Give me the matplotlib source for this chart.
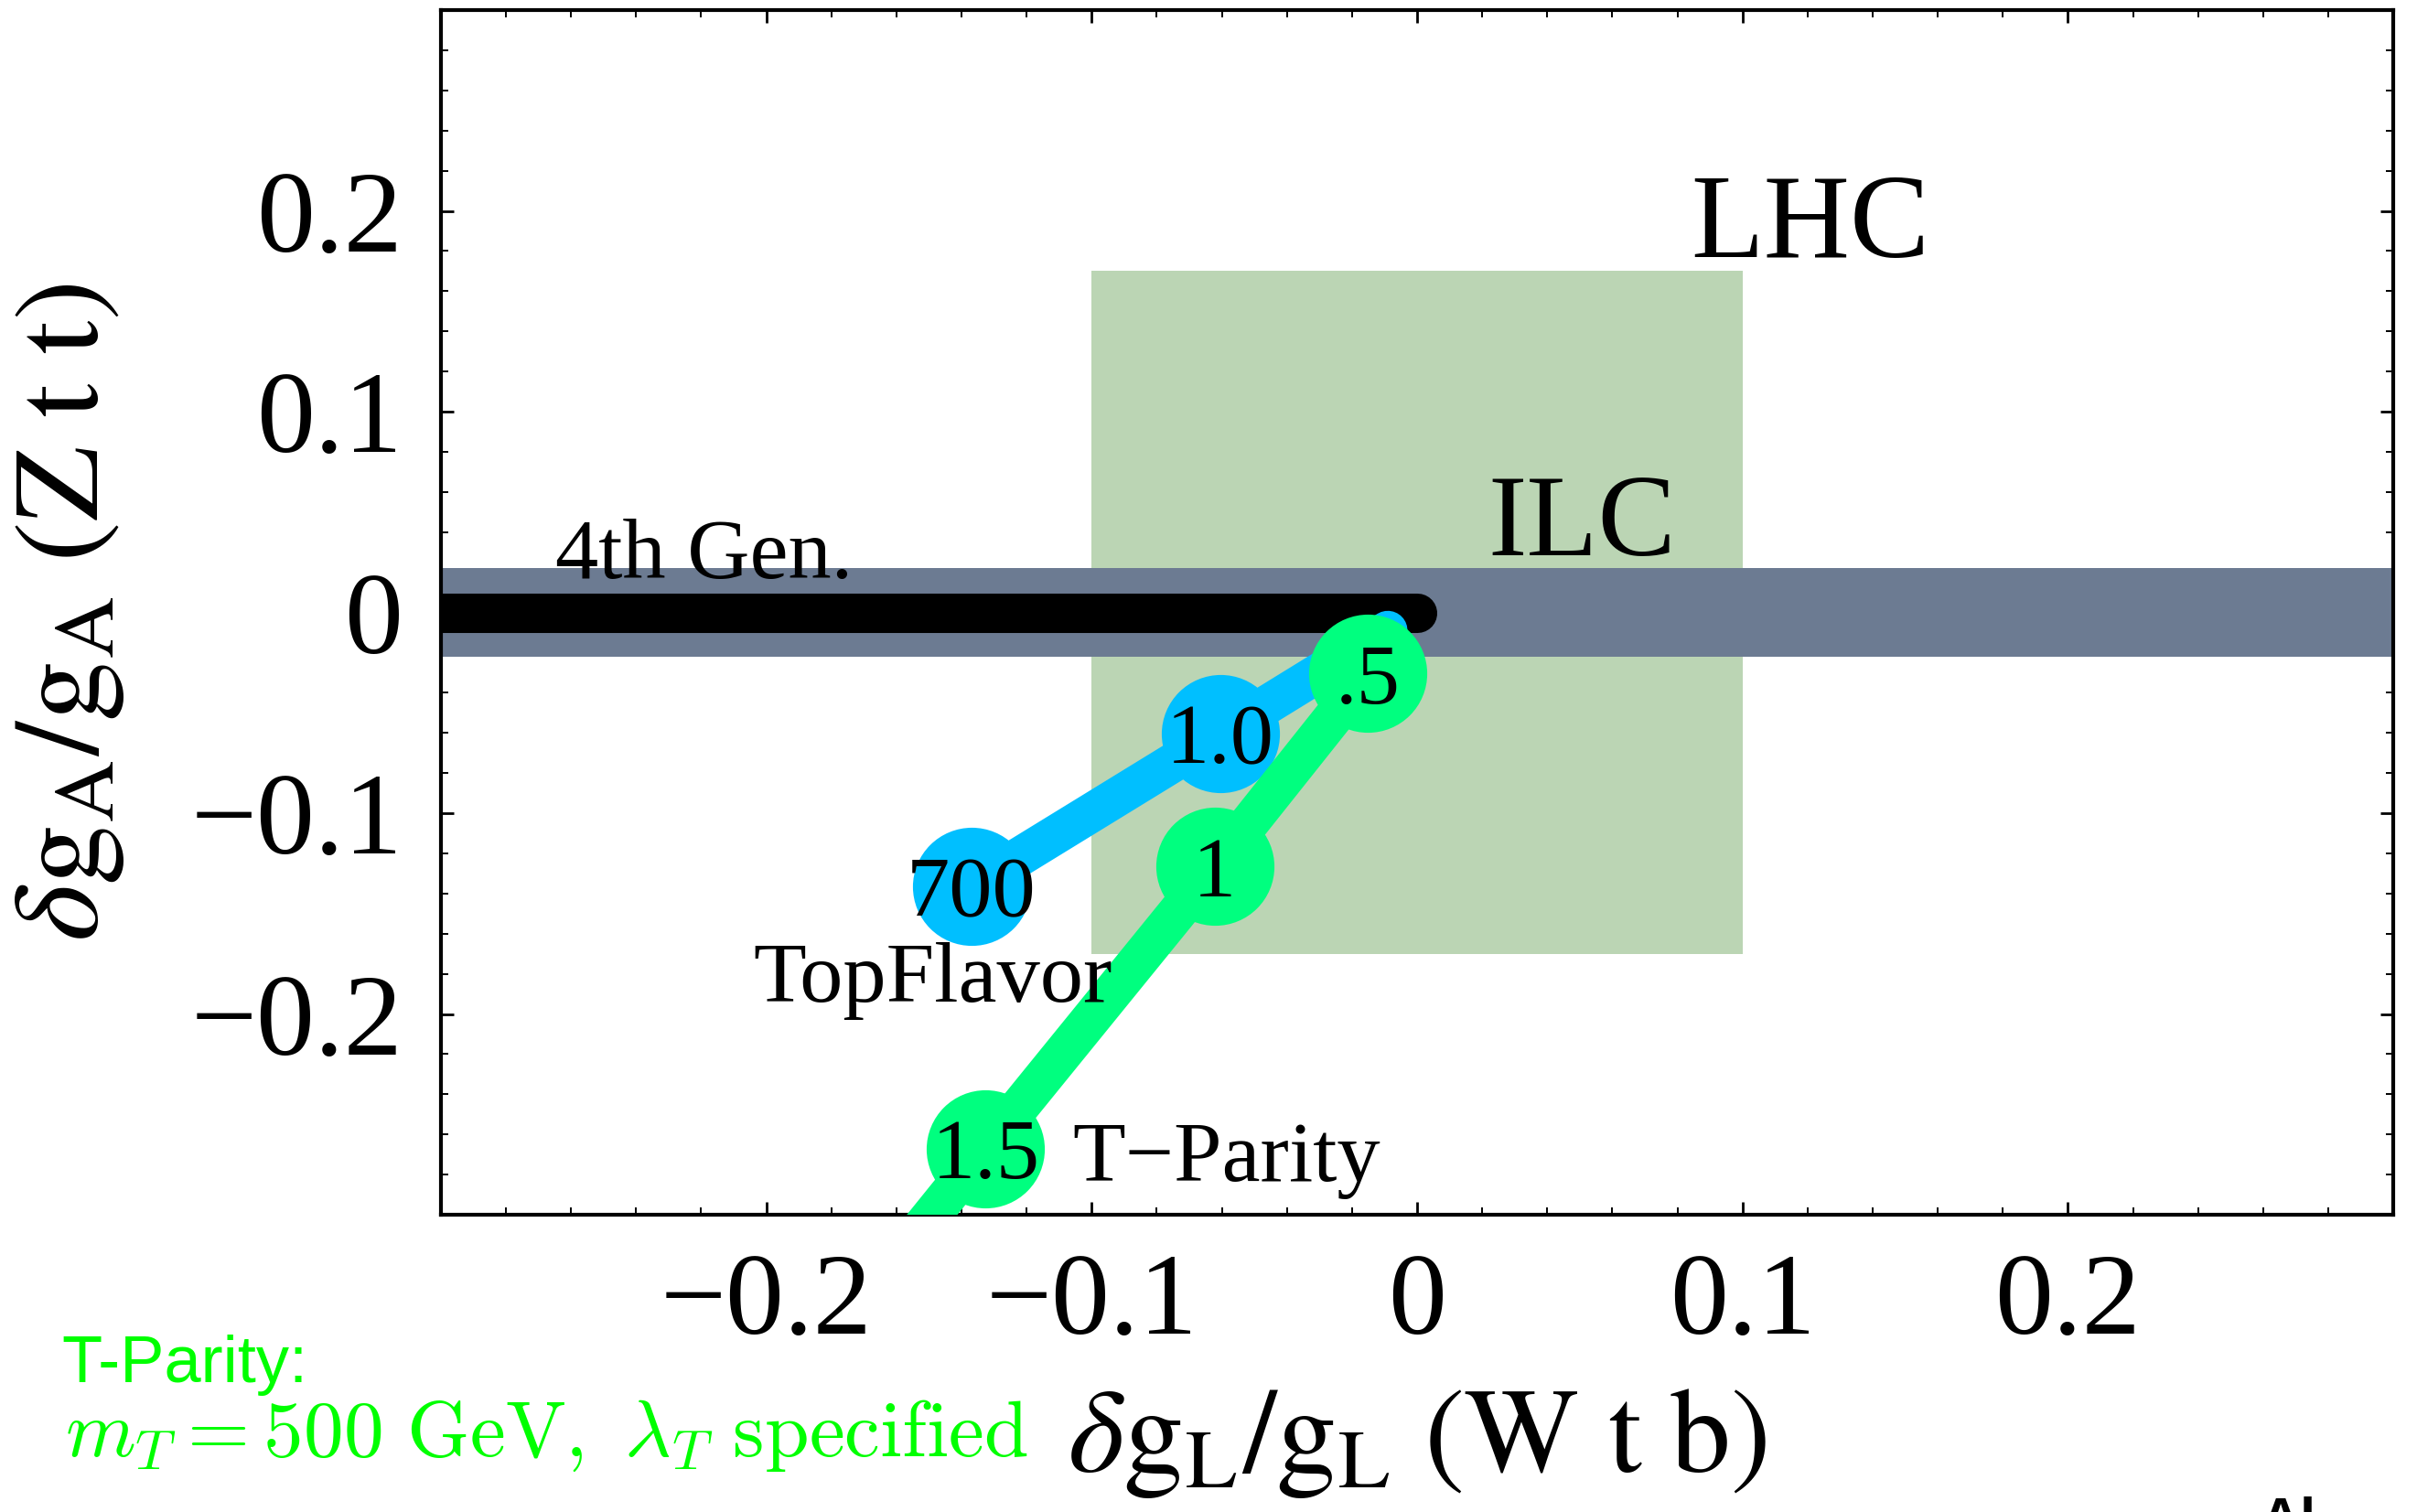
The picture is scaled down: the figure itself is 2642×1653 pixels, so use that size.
import matplotlib
matplotlib.use("Agg")
import matplotlib.pyplot as plt
from matplotlib.ticker import FixedLocator, FixedFormatter, MultipleLocator

plt.rcParams['font.family'] = ['Liberation Serif', 'DejaVu Serif']
plt.rcParams['mathtext.fontset'] = 'stix'
plt.rcParams['axes.unicode_minus'] = True

# tick positions and labels
major_ticks = [-0.2, -0.1, 0.0, 0.1, 0.2]
tick_labels = ['\u22120.2', '\u22120.1', '0', '0.1', '0.2']

# experimental reach
lhc_x = [-0.1, 0.1]
lhc_y = [-0.17, 0.17]
ilc_y = [-0.022, 0.022]

# 4th generation line
gen4_x = [-0.3, 0.0]
gen4_y = [0.0, 0.0]

# TopFlavor points (heavy mass labels)
tf_x = [-0.137, -0.0605, -0.009]
tf_y = [-0.1365, -0.0604, -0.009]
tf_marked = [0, 1]
tf_labels = ['700', '1.0']

# T-Parity points (lambda_T labels); last point is the off-axis tail
tp_x = [-0.0151, -0.0622, -0.1326, -0.159]
tp_y = [-0.0305, -0.1265, -0.267, -0.32]
tp_marked = [0, 1, 2]
tp_labels = ['.5', '1', '1.5']

fig = plt.figure(figsize=(13.21, 8.265), dpi=200)
ax = fig.add_axes([0.1824, 0.1966, 0.8078, 0.7967])

ax.fill_between(lhc_x, lhc_y[0], lhc_y[1], color='#bbd5b4', lw=0, zorder=1)
ax.axhspan(ilc_y[0], ilc_y[1], color='#6c7b92', lw=0, zorder=2)

ax.plot(gen4_x, gen4_y, color='black', lw=15.5, solid_capstyle='round', zorder=3)

ax.plot(tf_x, tf_y, color='#00bfff', lw=15.5, solid_capstyle='round', zorder=4)
ax.plot([tf_x[i] for i in tf_marked], [tf_y[i] for i in tf_marked], 'o',
        color='#00bfff', ms=46.5, mew=0, zorder=4)

ax.plot(tp_x, tp_y, color='#00ff7f', lw=15.5, solid_capstyle='butt', zorder=5)
ax.plot([tp_x[i] for i in tp_marked], [tp_y[i] for i in tp_marked], 'o',
        color='#00ff7f', ms=46.5, mew=0, zorder=5)

for i, lab in zip(tf_marked, tf_labels):
    ax.text(tf_x[i], tf_y[i], lab, fontsize=34, ha='center', va='center_baseline', zorder=6)
for i, lab in zip(tp_marked, tp_labels):
    ax.text(tp_x[i], tp_y[i], lab, fontsize=34, ha='center', va='center_baseline', zorder=6)

ax.text(-0.2647, 0.0171, '4th Gen.', fontsize=34, zorder=6)
ax.text(0.084, 0.177, 'LHC', fontsize=47, zorder=6)
ax.text(0.0217, 0.0287, 'ILC', fontsize=46, zorder=6)
ax.text(-0.204, -0.194, 'TopFlavor', fontsize=34, zorder=6)
ax.text(-0.106, -0.283, 'T\u2212Parity', fontsize=34, zorder=6)

ax.set_xlim(-0.3, 0.3)
ax.set_ylim(-0.3, 0.3)

for axis in (ax.xaxis, ax.yaxis):
    axis.set_major_locator(FixedLocator(major_ticks))
    axis.set_major_formatter(FixedFormatter(tick_labels))
    axis.set_minor_locator(MultipleLocator(0.02))

ax.tick_params(which='both', direction='in', top=True, right=True, labelsize=46)
ax.tick_params(which='major', length=5, width=1.0)
ax.tick_params(which='minor', length=3, width=0.7)
ax.tick_params(axis='x', pad=15)
ax.tick_params(axis='y', pad=15)
for sp in ax.spines.values():
    sp.set_linewidth(1.5)

ax.set_xlabel(r'$\delta\mathrm{g}_\mathrm{L}/\mathrm{g}_\mathrm{L}\ (\mathrm{W\ t\ b})$', fontsize=47.5)
ax.xaxis.label.set_va('baseline')
ax.xaxis.set_label_coords(0.5, -0.2134)
ax.set_ylabel(r'$\delta\mathrm{g}_\mathrm{A}/\mathrm{g}_\mathrm{A}\ (\mathrm{Z\ t\ t})$', fontsize=48)
ax.yaxis.label.set_va('center')
ax.yaxis.set_label_coords(-0.19, 0.5)

fig.text(67 / 2642, 1 - 1511 / 1653, 'T-Parity:', color='#00ff00', fontsize=26,
         family='Liberation Sans', va='baseline')
fig.text(71 / 2642, 1 - 1592 / 1653,
         r'$m_T = 500\ \mathrm{GeV},\ \lambda_T\ \mathrm{specified}$',
         color='#00ff00', fontsize=31.5, math_fontfamily='cm', va='baseline')
fig.text(2470 / 2642, 1 - 1636 / 1653, 'Al', fontsize=22, fontweight='bold',
         family='Liberation Sans', va='top')

fig.savefig('out.png', dpi=200)
